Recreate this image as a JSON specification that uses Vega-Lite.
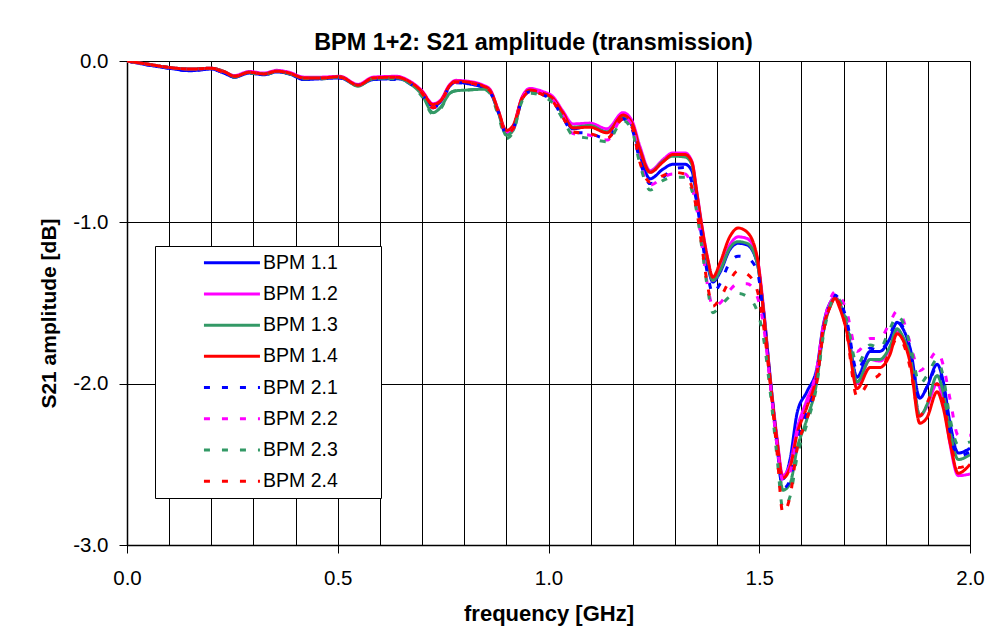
{
"$schema": "https://vega.github.io/schema/vega-lite/v6.json",
"width": 843, "height": 484,
"autosize": {"type": "none"},
"padding": {"left": 127, "top": 61, "right": 34, "bottom": 95},
"background": "white",
"title": {"text": "BPM 1+2: S21 amplitude (transmission)", "fontSize": 23.4, "fontWeight": "bold", "font": "Liberation Sans", "color": "black", "anchor": "middle", "dx": -15, "offset": -4},
"data": {"values": [
{"series":"BPM 1.1","f":0,"dB":0},{"series":"BPM 1.1","f":0.05,"dB":-0.025},{"series":"BPM 1.1","f":0.1,"dB":-0.045},{"series":"BPM 1.1","f":0.15,"dB":-0.06},{"series":"BPM 1.1","f":0.2,"dB":-0.05},{"series":"BPM 1.1","f":0.23,"dB":-0.075},{"series":"BPM 1.1","f":0.255,"dB":-0.1},{"series":"BPM 1.1","f":0.29,"dB":-0.075},{"series":"BPM 1.1","f":0.325,"dB":-0.085},{"series":"BPM 1.1","f":0.355,"dB":-0.068},
{"series":"BPM 1.1","f":0.385,"dB":-0.08},{"series":"BPM 1.1","f":0.42,"dB":-0.115},{"series":"BPM 1.1","f":0.46,"dB":-0.11},{"series":"BPM 1.1","f":0.505,"dB":-0.105},{"series":"BPM 1.1","f":0.548,"dB":-0.15},{"series":"BPM 1.1","f":0.584,"dB":-0.115},{"series":"BPM 1.1","f":0.64,"dB":-0.11},{"series":"BPM 1.1","f":0.671,"dB":-0.135},{"series":"BPM 1.1","f":0.7,"dB":-0.2},{"series":"BPM 1.1","f":0.726,"dB":-0.28},
{"series":"BPM 1.1","f":0.743,"dB":-0.255},{"series":"BPM 1.1","f":0.766,"dB":-0.155},{"series":"BPM 1.1","f":0.78,"dB":-0.13},{"series":"BPM 1.1","f":0.807,"dB":-0.14},{"series":"BPM 1.1","f":0.845,"dB":-0.165},{"series":"BPM 1.1","f":0.861,"dB":-0.19},{"series":"BPM 1.1","f":0.88,"dB":-0.31},{"series":"BPM 1.1","f":0.9,"dB":-0.44},{"series":"BPM 1.1","f":0.916,"dB":-0.41},{"series":"BPM 1.1","f":0.937,"dB":-0.235},
{"series":"BPM 1.1","f":0.956,"dB":-0.18},{"series":"BPM 1.1","f":0.987,"dB":-0.2},{"series":"BPM 1.1","f":1.01,"dB":-0.235},{"series":"BPM 1.1","f":1.034,"dB":-0.33},{"series":"BPM 1.1","f":1.058,"dB":-0.42},{"series":"BPM 1.1","f":1.098,"dB":-0.4},{"series":"BPM 1.1","f":1.139,"dB":-0.44},{"series":"BPM 1.1","f":1.177,"dB":-0.345},{"series":"BPM 1.1","f":1.198,"dB":-0.4},{"series":"BPM 1.1","f":1.217,"dB":-0.58},
{"series":"BPM 1.1","f":1.241,"dB":-0.73},{"series":"BPM 1.1","f":1.272,"dB":-0.67},{"series":"BPM 1.1","f":1.295,"dB":-0.64},{"series":"BPM 1.1","f":1.324,"dB":-0.64},{"series":"BPM 1.1","f":1.34,"dB":-0.68},{"series":"BPM 1.1","f":1.352,"dB":-0.85},{"series":"BPM 1.1","f":1.364,"dB":-1.05},{"series":"BPM 1.1","f":1.378,"dB":-1.27},{"series":"BPM 1.1","f":1.39,"dB":-1.37},{"series":"BPM 1.1","f":1.407,"dB":-1.31},
{"series":"BPM 1.1","f":1.43,"dB":-1.17},{"series":"BPM 1.1","f":1.45,"dB":-1.13},{"series":"BPM 1.1","f":1.471,"dB":-1.14},{"series":"BPM 1.1","f":1.495,"dB":-1.25},{"series":"BPM 1.1","f":1.509,"dB":-1.52},{"series":"BPM 1.1","f":1.526,"dB":-1.97},{"series":"BPM 1.1","f":1.542,"dB":-2.35},{"series":"BPM 1.1","f":1.556,"dB":-2.59},{"series":"BPM 1.1","f":1.573,"dB":-2.47},{"series":"BPM 1.1","f":1.59,"dB":-2.18},
{"series":"BPM 1.1","f":1.613,"dB":-2.05},{"series":"BPM 1.1","f":1.637,"dB":-1.9},{"series":"BPM 1.1","f":1.651,"dB":-1.65},{"series":"BPM 1.1","f":1.668,"dB":-1.5},{"series":"BPM 1.1","f":1.68,"dB":-1.47},{"series":"BPM 1.1","f":1.69,"dB":-1.5},{"series":"BPM 1.1","f":1.707,"dB":-1.63},{"series":"BPM 1.1","f":1.732,"dB":-1.96},{"series":"BPM 1.1","f":1.763,"dB":-1.8},{"series":"BPM 1.1","f":1.786,"dB":-1.8},
{"series":"BPM 1.1","f":1.81,"dB":-1.72},{"series":"BPM 1.1","f":1.827,"dB":-1.62},{"series":"BPM 1.1","f":1.841,"dB":-1.66},{"series":"BPM 1.1","f":1.858,"dB":-1.78},{"series":"BPM 1.1","f":1.881,"dB":-2.09},{"series":"BPM 1.1","f":1.898,"dB":-2.02},{"series":"BPM 1.1","f":1.922,"dB":-1.88},{"series":"BPM 1.1","f":1.936,"dB":-1.98},{"series":"BPM 1.1","f":1.953,"dB":-2.25},{"series":"BPM 1.1","f":1.972,"dB":-2.43},{"series":"BPM 1.1","f":2.0,"dB":-2.4},

{"series":"BPM 1.2","f":0,"dB":0},{"series":"BPM 1.2","f":0.05,"dB":-0.02},{"series":"BPM 1.2","f":0.1,"dB":-0.04},{"series":"BPM 1.2","f":0.15,"dB":-0.05},{"series":"BPM 1.2","f":0.2,"dB":-0.045},{"series":"BPM 1.2","f":0.23,"dB":-0.065},{"series":"BPM 1.2","f":0.255,"dB":-0.09},{"series":"BPM 1.2","f":0.29,"dB":-0.065},{"series":"BPM 1.2","f":0.325,"dB":-0.075},{"series":"BPM 1.2","f":0.355,"dB":-0.058},
{"series":"BPM 1.2","f":0.385,"dB":-0.07},{"series":"BPM 1.2","f":0.42,"dB":-0.1},{"series":"BPM 1.2","f":0.46,"dB":-0.1},{"series":"BPM 1.2","f":0.505,"dB":-0.095},{"series":"BPM 1.2","f":0.548,"dB":-0.145},{"series":"BPM 1.2","f":0.584,"dB":-0.1},{"series":"BPM 1.2","f":0.64,"dB":-0.095},{"series":"BPM 1.2","f":0.671,"dB":-0.125},{"series":"BPM 1.2","f":0.7,"dB":-0.185},{"series":"BPM 1.2","f":0.726,"dB":-0.265},
{"series":"BPM 1.2","f":0.743,"dB":-0.245},{"series":"BPM 1.2","f":0.766,"dB":-0.145},{"series":"BPM 1.2","f":0.78,"dB":-0.12},{"series":"BPM 1.2","f":0.807,"dB":-0.125},{"series":"BPM 1.2","f":0.845,"dB":-0.15},{"series":"BPM 1.2","f":0.861,"dB":-0.175},{"series":"BPM 1.2","f":0.88,"dB":-0.3},{"series":"BPM 1.2","f":0.9,"dB":-0.44},{"series":"BPM 1.2","f":0.916,"dB":-0.41},{"series":"BPM 1.2","f":0.937,"dB":-0.225},
{"series":"BPM 1.2","f":0.956,"dB":-0.17},{"series":"BPM 1.2","f":0.987,"dB":-0.19},{"series":"BPM 1.2","f":1.01,"dB":-0.22},{"series":"BPM 1.2","f":1.034,"dB":-0.31},{"series":"BPM 1.2","f":1.058,"dB":-0.39},{"series":"BPM 1.2","f":1.098,"dB":-0.385},{"series":"BPM 1.2","f":1.139,"dB":-0.42},{"series":"BPM 1.2","f":1.177,"dB":-0.32},{"series":"BPM 1.2","f":1.198,"dB":-0.37},{"series":"BPM 1.2","f":1.217,"dB":-0.53},
{"series":"BPM 1.2","f":1.241,"dB":-0.68},{"series":"BPM 1.2","f":1.272,"dB":-0.61},{"series":"BPM 1.2","f":1.295,"dB":-0.57},{"series":"BPM 1.2","f":1.324,"dB":-0.57},{"series":"BPM 1.2","f":1.34,"dB":-0.62},{"series":"BPM 1.2","f":1.352,"dB":-0.81},{"series":"BPM 1.2","f":1.364,"dB":-1.02},{"series":"BPM 1.2","f":1.378,"dB":-1.23},{"series":"BPM 1.2","f":1.39,"dB":-1.36},{"series":"BPM 1.2","f":1.407,"dB":-1.29},
{"series":"BPM 1.2","f":1.43,"dB":-1.14},{"series":"BPM 1.2","f":1.45,"dB":-1.09},{"series":"BPM 1.2","f":1.471,"dB":-1.1},{"series":"BPM 1.2","f":1.495,"dB":-1.22},{"series":"BPM 1.2","f":1.509,"dB":-1.5},{"series":"BPM 1.2","f":1.526,"dB":-1.96},{"series":"BPM 1.2","f":1.542,"dB":-2.33},{"series":"BPM 1.2","f":1.556,"dB":-2.57},{"series":"BPM 1.2","f":1.573,"dB":-2.5},{"series":"BPM 1.2","f":1.59,"dB":-2.28},
{"series":"BPM 1.2","f":1.613,"dB":-2.1},{"series":"BPM 1.2","f":1.637,"dB":-1.92},{"series":"BPM 1.2","f":1.651,"dB":-1.66},{"series":"BPM 1.2","f":1.668,"dB":-1.5},{"series":"BPM 1.2","f":1.68,"dB":-1.46},{"series":"BPM 1.2","f":1.69,"dB":-1.5},{"series":"BPM 1.2","f":1.707,"dB":-1.65},{"series":"BPM 1.2","f":1.732,"dB":-2.0},{"series":"BPM 1.2","f":1.763,"dB":-1.85},{"series":"BPM 1.2","f":1.786,"dB":-1.86},
{"series":"BPM 1.2","f":1.81,"dB":-1.78},{"series":"BPM 1.2","f":1.827,"dB":-1.67},{"series":"BPM 1.2","f":1.841,"dB":-1.72},{"series":"BPM 1.2","f":1.858,"dB":-1.85},{"series":"BPM 1.2","f":1.881,"dB":-2.2},{"series":"BPM 1.2","f":1.898,"dB":-2.14},{"series":"BPM 1.2","f":1.922,"dB":-2.0},{"series":"BPM 1.2","f":1.936,"dB":-2.1},{"series":"BPM 1.2","f":1.953,"dB":-2.38},{"series":"BPM 1.2","f":1.972,"dB":-2.57},{"series":"BPM 1.2","f":2.0,"dB":-2.56},

{"series":"BPM 1.3","f":0,"dB":0},{"series":"BPM 1.3","f":0.05,"dB":-0.02},{"series":"BPM 1.3","f":0.1,"dB":-0.04},{"series":"BPM 1.3","f":0.15,"dB":-0.05},{"series":"BPM 1.3","f":0.2,"dB":-0.045},{"series":"BPM 1.3","f":0.23,"dB":-0.065},{"series":"BPM 1.3","f":0.255,"dB":-0.095},{"series":"BPM 1.3","f":0.29,"dB":-0.07},{"series":"BPM 1.3","f":0.325,"dB":-0.08},{"series":"BPM 1.3","f":0.355,"dB":-0.063},
{"series":"BPM 1.3","f":0.385,"dB":-0.078},{"series":"BPM 1.3","f":0.42,"dB":-0.105},{"series":"BPM 1.3","f":0.46,"dB":-0.105},{"series":"BPM 1.3","f":0.505,"dB":-0.1},{"series":"BPM 1.3","f":0.548,"dB":-0.155},{"series":"BPM 1.3","f":0.584,"dB":-0.11},{"series":"BPM 1.3","f":0.64,"dB":-0.105},{"series":"BPM 1.3","f":0.671,"dB":-0.14},{"series":"BPM 1.3","f":0.7,"dB":-0.21},{"series":"BPM 1.3","f":0.726,"dB":-0.32},
{"series":"BPM 1.3","f":0.743,"dB":-0.29},{"series":"BPM 1.3","f":0.766,"dB":-0.2},{"series":"BPM 1.3","f":0.78,"dB":-0.185},{"series":"BPM 1.3","f":0.807,"dB":-0.18},{"series":"BPM 1.3","f":0.845,"dB":-0.175},{"series":"BPM 1.3","f":0.861,"dB":-0.19},{"series":"BPM 1.3","f":0.88,"dB":-0.31},{"series":"BPM 1.3","f":0.9,"dB":-0.46},{"series":"BPM 1.3","f":0.916,"dB":-0.43},{"series":"BPM 1.3","f":0.937,"dB":-0.24},
{"series":"BPM 1.3","f":0.956,"dB":-0.185},{"series":"BPM 1.3","f":0.987,"dB":-0.205},{"series":"BPM 1.3","f":1.01,"dB":-0.235},{"series":"BPM 1.3","f":1.034,"dB":-0.33},{"series":"BPM 1.3","f":1.058,"dB":-0.41},{"series":"BPM 1.3","f":1.098,"dB":-0.4},{"series":"BPM 1.3","f":1.139,"dB":-0.44},{"series":"BPM 1.3","f":1.177,"dB":-0.34},{"series":"BPM 1.3","f":1.198,"dB":-0.39},{"series":"BPM 1.3","f":1.217,"dB":-0.55},
{"series":"BPM 1.3","f":1.241,"dB":-0.69},{"series":"BPM 1.3","f":1.272,"dB":-0.62},{"series":"BPM 1.3","f":1.295,"dB":-0.59},{"series":"BPM 1.3","f":1.324,"dB":-0.595},{"series":"BPM 1.3","f":1.34,"dB":-0.64},{"series":"BPM 1.3","f":1.352,"dB":-0.83},{"series":"BPM 1.3","f":1.364,"dB":-1.04},{"series":"BPM 1.3","f":1.378,"dB":-1.25},{"series":"BPM 1.3","f":1.39,"dB":-1.36},{"series":"BPM 1.3","f":1.407,"dB":-1.3},
{"series":"BPM 1.3","f":1.43,"dB":-1.16},{"series":"BPM 1.3","f":1.45,"dB":-1.12},{"series":"BPM 1.3","f":1.471,"dB":-1.13},{"series":"BPM 1.3","f":1.495,"dB":-1.25},{"series":"BPM 1.3","f":1.509,"dB":-1.52},{"series":"BPM 1.3","f":1.526,"dB":-1.97},{"series":"BPM 1.3","f":1.542,"dB":-2.36},{"series":"BPM 1.3","f":1.556,"dB":-2.66},{"series":"BPM 1.3","f":1.573,"dB":-2.62},{"series":"BPM 1.3","f":1.59,"dB":-2.4},
{"series":"BPM 1.3","f":1.613,"dB":-2.22},{"series":"BPM 1.3","f":1.637,"dB":-1.98},{"series":"BPM 1.3","f":1.651,"dB":-1.7},{"series":"BPM 1.3","f":1.668,"dB":-1.52},{"series":"BPM 1.3","f":1.68,"dB":-1.47},{"series":"BPM 1.3","f":1.69,"dB":-1.5},{"series":"BPM 1.3","f":1.707,"dB":-1.64},{"series":"BPM 1.3","f":1.732,"dB":-1.99},{"series":"BPM 1.3","f":1.763,"dB":-1.85},{"series":"BPM 1.3","f":1.786,"dB":-1.85},
{"series":"BPM 1.3","f":1.81,"dB":-1.77},{"series":"BPM 1.3","f":1.827,"dB":-1.66},{"series":"BPM 1.3","f":1.841,"dB":-1.71},{"series":"BPM 1.3","f":1.858,"dB":-1.83},{"series":"BPM 1.3","f":1.881,"dB":-2.2},{"series":"BPM 1.3","f":1.898,"dB":-2.13},{"series":"BPM 1.3","f":1.922,"dB":-1.95},{"series":"BPM 1.3","f":1.936,"dB":-2.05},{"series":"BPM 1.3","f":1.953,"dB":-2.3},{"series":"BPM 1.3","f":1.972,"dB":-2.47},{"series":"BPM 1.3","f":2.0,"dB":-2.44},

{"series":"BPM 1.4","f":0,"dB":0},{"series":"BPM 1.4","f":0.05,"dB":-0.02},{"series":"BPM 1.4","f":0.1,"dB":-0.04},{"series":"BPM 1.4","f":0.15,"dB":-0.05},{"series":"BPM 1.4","f":0.2,"dB":-0.045},{"series":"BPM 1.4","f":0.23,"dB":-0.065},{"series":"BPM 1.4","f":0.255,"dB":-0.095},{"series":"BPM 1.4","f":0.29,"dB":-0.07},{"series":"BPM 1.4","f":0.325,"dB":-0.08},{"series":"BPM 1.4","f":0.355,"dB":-0.063},
{"series":"BPM 1.4","f":0.385,"dB":-0.075},{"series":"BPM 1.4","f":0.42,"dB":-0.105},{"series":"BPM 1.4","f":0.46,"dB":-0.105},{"series":"BPM 1.4","f":0.505,"dB":-0.097},{"series":"BPM 1.4","f":0.548,"dB":-0.15},{"series":"BPM 1.4","f":0.584,"dB":-0.105},{"series":"BPM 1.4","f":0.64,"dB":-0.1},{"series":"BPM 1.4","f":0.671,"dB":-0.13},{"series":"BPM 1.4","f":0.7,"dB":-0.19},{"series":"BPM 1.4","f":0.726,"dB":-0.27},
{"series":"BPM 1.4","f":0.743,"dB":-0.25},{"series":"BPM 1.4","f":0.766,"dB":-0.15},{"series":"BPM 1.4","f":0.78,"dB":-0.125},{"series":"BPM 1.4","f":0.807,"dB":-0.13},{"series":"BPM 1.4","f":0.845,"dB":-0.155},{"series":"BPM 1.4","f":0.861,"dB":-0.18},{"series":"BPM 1.4","f":0.88,"dB":-0.3},{"series":"BPM 1.4","f":0.9,"dB":-0.43},{"series":"BPM 1.4","f":0.916,"dB":-0.4},{"series":"BPM 1.4","f":0.937,"dB":-0.23},
{"series":"BPM 1.4","f":0.956,"dB":-0.18},{"series":"BPM 1.4","f":0.987,"dB":-0.2},{"series":"BPM 1.4","f":1.01,"dB":-0.23},{"series":"BPM 1.4","f":1.034,"dB":-0.32},{"series":"BPM 1.4","f":1.058,"dB":-0.415},{"series":"BPM 1.4","f":1.098,"dB":-0.41},{"series":"BPM 1.4","f":1.139,"dB":-0.445},{"series":"BPM 1.4","f":1.177,"dB":-0.335},{"series":"BPM 1.4","f":1.198,"dB":-0.385},{"series":"BPM 1.4","f":1.217,"dB":-0.55},
{"series":"BPM 1.4","f":1.241,"dB":-0.69},{"series":"BPM 1.4","f":1.272,"dB":-0.625},{"series":"BPM 1.4","f":1.295,"dB":-0.58},{"series":"BPM 1.4","f":1.324,"dB":-0.58},{"series":"BPM 1.4","f":1.34,"dB":-0.625},{"series":"BPM 1.4","f":1.352,"dB":-0.82},{"series":"BPM 1.4","f":1.364,"dB":-1.03},{"series":"BPM 1.4","f":1.378,"dB":-1.23},{"series":"BPM 1.4","f":1.39,"dB":-1.34},{"series":"BPM 1.4","f":1.407,"dB":-1.25},
{"series":"BPM 1.4","f":1.43,"dB":-1.09},{"series":"BPM 1.4","f":1.45,"dB":-1.035},{"series":"BPM 1.4","f":1.471,"dB":-1.06},{"series":"BPM 1.4","f":1.495,"dB":-1.215},{"series":"BPM 1.4","f":1.509,"dB":-1.525},{"series":"BPM 1.4","f":1.526,"dB":-1.98},{"series":"BPM 1.4","f":1.542,"dB":-2.35},{"series":"BPM 1.4","f":1.556,"dB":-2.585},{"series":"BPM 1.4","f":1.573,"dB":-2.52},{"series":"BPM 1.4","f":1.59,"dB":-2.31},
{"series":"BPM 1.4","f":1.613,"dB":-2.145},{"series":"BPM 1.4","f":1.637,"dB":-1.935},{"series":"BPM 1.4","f":1.651,"dB":-1.67},{"series":"BPM 1.4","f":1.668,"dB":-1.525},{"series":"BPM 1.4","f":1.68,"dB":-1.47},{"series":"BPM 1.4","f":1.69,"dB":-1.525},{"series":"BPM 1.4","f":1.707,"dB":-1.67},{"series":"BPM 1.4","f":1.732,"dB":-2.03},{"series":"BPM 1.4","f":1.763,"dB":-1.9},{"series":"BPM 1.4","f":1.786,"dB":-1.9},
{"series":"BPM 1.4","f":1.81,"dB":-1.82},{"series":"BPM 1.4","f":1.827,"dB":-1.69},{"series":"BPM 1.4","f":1.841,"dB":-1.73},{"series":"BPM 1.4","f":1.858,"dB":-1.87},{"series":"BPM 1.4","f":1.881,"dB":-2.245},{"series":"BPM 1.4","f":1.898,"dB":-2.21},{"series":"BPM 1.4","f":1.922,"dB":-2.05},{"series":"BPM 1.4","f":1.936,"dB":-2.145},{"series":"BPM 1.4","f":1.953,"dB":-2.37},{"series":"BPM 1.4","f":1.972,"dB":-2.555},{"series":"BPM 1.4","f":2.0,"dB":-2.5},

{"series":"BPM 2.1","f":0,"dB":0},{"series":"BPM 2.1","f":0.05,"dB":-0.025},{"series":"BPM 2.1","f":0.1,"dB":-0.045},{"series":"BPM 2.1","f":0.15,"dB":-0.06},{"series":"BPM 2.1","f":0.2,"dB":-0.05},{"series":"BPM 2.1","f":0.23,"dB":-0.075},{"series":"BPM 2.1","f":0.255,"dB":-0.1},{"series":"BPM 2.1","f":0.29,"dB":-0.075},{"series":"BPM 2.1","f":0.325,"dB":-0.085},{"series":"BPM 2.1","f":0.355,"dB":-0.068},
{"series":"BPM 2.1","f":0.385,"dB":-0.08},{"series":"BPM 2.1","f":0.42,"dB":-0.115},{"series":"BPM 2.1","f":0.46,"dB":-0.11},{"series":"BPM 2.1","f":0.505,"dB":-0.105},{"series":"BPM 2.1","f":0.548,"dB":-0.15},{"series":"BPM 2.1","f":0.584,"dB":-0.115},{"series":"BPM 2.1","f":0.64,"dB":-0.115},{"series":"BPM 2.1","f":0.671,"dB":-0.14},{"series":"BPM 2.1","f":0.7,"dB":-0.21},{"series":"BPM 2.1","f":0.726,"dB":-0.29},
{"series":"BPM 2.1","f":0.743,"dB":-0.26},{"series":"BPM 2.1","f":0.766,"dB":-0.16},{"series":"BPM 2.1","f":0.78,"dB":-0.135},{"series":"BPM 2.1","f":0.807,"dB":-0.14},{"series":"BPM 2.1","f":0.845,"dB":-0.16},{"series":"BPM 2.1","f":0.861,"dB":-0.19},{"series":"BPM 2.1","f":0.88,"dB":-0.31},{"series":"BPM 2.1","f":0.9,"dB":-0.45},{"series":"BPM 2.1","f":0.916,"dB":-0.42},{"series":"BPM 2.1","f":0.937,"dB":-0.24},
{"series":"BPM 2.1","f":0.956,"dB":-0.19},{"series":"BPM 2.1","f":0.987,"dB":-0.21},{"series":"BPM 2.1","f":1.01,"dB":-0.25},{"series":"BPM 2.1","f":1.034,"dB":-0.35},{"series":"BPM 2.1","f":1.058,"dB":-0.44},{"series":"BPM 2.1","f":1.098,"dB":-0.45},{"series":"BPM 2.1","f":1.139,"dB":-0.48},{"series":"BPM 2.1","f":1.177,"dB":-0.36},{"series":"BPM 2.1","f":1.198,"dB":-0.42},{"series":"BPM 2.1","f":1.217,"dB":-0.62},
{"series":"BPM 2.1","f":1.241,"dB":-0.76},{"series":"BPM 2.1","f":1.272,"dB":-0.72},{"series":"BPM 2.1","f":1.295,"dB":-0.67},{"series":"BPM 2.1","f":1.324,"dB":-0.66},{"series":"BPM 2.1","f":1.34,"dB":-0.75},{"series":"BPM 2.1","f":1.352,"dB":-0.88},{"series":"BPM 2.1","f":1.364,"dB":-1.1},{"series":"BPM 2.1","f":1.378,"dB":-1.33},{"series":"BPM 2.1","f":1.39,"dB":-1.44},{"series":"BPM 2.1","f":1.407,"dB":-1.38},
{"series":"BPM 2.1","f":1.43,"dB":-1.25},{"series":"BPM 2.1","f":1.45,"dB":-1.21},{"series":"BPM 2.1","f":1.471,"dB":-1.22},{"series":"BPM 2.1","f":1.495,"dB":-1.3},{"series":"BPM 2.1","f":1.509,"dB":-1.55},{"series":"BPM 2.1","f":1.526,"dB":-1.98},{"series":"BPM 2.1","f":1.542,"dB":-2.38},{"series":"BPM 2.1","f":1.556,"dB":-2.65},{"series":"BPM 2.1","f":1.573,"dB":-2.6},{"series":"BPM 2.1","f":1.59,"dB":-2.35},
{"series":"BPM 2.1","f":1.613,"dB":-2.18},{"series":"BPM 2.1","f":1.637,"dB":-1.96},{"series":"BPM 2.1","f":1.651,"dB":-1.68},{"series":"BPM 2.1","f":1.668,"dB":-1.5},{"series":"BPM 2.1","f":1.68,"dB":-1.45},{"series":"BPM 2.1","f":1.69,"dB":-1.48},{"series":"BPM 2.1","f":1.707,"dB":-1.6},{"series":"BPM 2.1","f":1.732,"dB":-1.92},{"series":"BPM 2.1","f":1.763,"dB":-1.78},{"series":"BPM 2.1","f":1.786,"dB":-1.8},
{"series":"BPM 2.1","f":1.81,"dB":-1.7},{"series":"BPM 2.1","f":1.827,"dB":-1.6},{"series":"BPM 2.1","f":1.841,"dB":-1.65},{"series":"BPM 2.1","f":1.858,"dB":-1.78},{"series":"BPM 2.1","f":1.881,"dB":-2.1},{"series":"BPM 2.1","f":1.898,"dB":-2.02},{"series":"BPM 2.1","f":1.922,"dB":-1.9},{"series":"BPM 2.1","f":1.936,"dB":-2.0},{"series":"BPM 2.1","f":1.953,"dB":-2.3},{"series":"BPM 2.1","f":1.972,"dB":-2.45},{"series":"BPM 2.1","f":2.0,"dB":-2.42},

{"series":"BPM 2.2","f":0,"dB":0},{"series":"BPM 2.2","f":0.05,"dB":-0.02},{"series":"BPM 2.2","f":0.1,"dB":-0.04},{"series":"BPM 2.2","f":0.15,"dB":-0.05},{"series":"BPM 2.2","f":0.2,"dB":-0.045},{"series":"BPM 2.2","f":0.23,"dB":-0.07},{"series":"BPM 2.2","f":0.255,"dB":-0.095},{"series":"BPM 2.2","f":0.29,"dB":-0.07},{"series":"BPM 2.2","f":0.325,"dB":-0.08},{"series":"BPM 2.2","f":0.355,"dB":-0.063},
{"series":"BPM 2.2","f":0.385,"dB":-0.075},{"series":"BPM 2.2","f":0.42,"dB":-0.105},{"series":"BPM 2.2","f":0.46,"dB":-0.105},{"series":"BPM 2.2","f":0.505,"dB":-0.1},{"series":"BPM 2.2","f":0.548,"dB":-0.15},{"series":"BPM 2.2","f":0.584,"dB":-0.105},{"series":"BPM 2.2","f":0.64,"dB":-0.1},{"series":"BPM 2.2","f":0.671,"dB":-0.13},{"series":"BPM 2.2","f":0.7,"dB":-0.2},{"series":"BPM 2.2","f":0.726,"dB":-0.29},
{"series":"BPM 2.2","f":0.743,"dB":-0.26},{"series":"BPM 2.2","f":0.766,"dB":-0.155},{"series":"BPM 2.2","f":0.78,"dB":-0.13},{"series":"BPM 2.2","f":0.807,"dB":-0.135},{"series":"BPM 2.2","f":0.845,"dB":-0.16},{"series":"BPM 2.2","f":0.861,"dB":-0.185},{"series":"BPM 2.2","f":0.88,"dB":-0.31},{"series":"BPM 2.2","f":0.9,"dB":-0.45},{"series":"BPM 2.2","f":0.916,"dB":-0.42},{"series":"BPM 2.2","f":0.937,"dB":-0.235},
{"series":"BPM 2.2","f":0.956,"dB":-0.18},{"series":"BPM 2.2","f":0.987,"dB":-0.2},{"series":"BPM 2.2","f":1.01,"dB":-0.24},{"series":"BPM 2.2","f":1.034,"dB":-0.34},{"series":"BPM 2.2","f":1.058,"dB":-0.45},{"series":"BPM 2.2","f":1.098,"dB":-0.46},{"series":"BPM 2.2","f":1.139,"dB":-0.49},{"series":"BPM 2.2","f":1.177,"dB":-0.35},{"series":"BPM 2.2","f":1.198,"dB":-0.4},{"series":"BPM 2.2","f":1.217,"dB":-0.62},
{"series":"BPM 2.2","f":1.241,"dB":-0.77},{"series":"BPM 2.2","f":1.272,"dB":-0.72},{"series":"BPM 2.2","f":1.295,"dB":-0.7},{"series":"BPM 2.2","f":1.324,"dB":-0.7},{"series":"BPM 2.2","f":1.34,"dB":-0.78},{"series":"BPM 2.2","f":1.352,"dB":-0.92},{"series":"BPM 2.2","f":1.364,"dB":-1.14},{"series":"BPM 2.2","f":1.378,"dB":-1.4},{"series":"BPM 2.2","f":1.39,"dB":-1.52},{"series":"BPM 2.2","f":1.407,"dB":-1.5},
{"series":"BPM 2.2","f":1.43,"dB":-1.42},{"series":"BPM 2.2","f":1.45,"dB":-1.38},{"series":"BPM 2.2","f":1.471,"dB":-1.38},{"series":"BPM 2.2","f":1.495,"dB":-1.46},{"series":"BPM 2.2","f":1.509,"dB":-1.62},{"series":"BPM 2.2","f":1.526,"dB":-2.0},{"series":"BPM 2.2","f":1.542,"dB":-2.38},{"series":"BPM 2.2","f":1.556,"dB":-2.6},{"series":"BPM 2.2","f":1.573,"dB":-2.55},{"series":"BPM 2.2","f":1.59,"dB":-2.3},
{"series":"BPM 2.2","f":1.613,"dB":-2.12},{"series":"BPM 2.2","f":1.637,"dB":-1.9},{"series":"BPM 2.2","f":1.651,"dB":-1.66},{"series":"BPM 2.2","f":1.668,"dB":-1.48},{"series":"BPM 2.2","f":1.68,"dB":-1.43},{"series":"BPM 2.2","f":1.69,"dB":-1.45},{"series":"BPM 2.2","f":1.707,"dB":-1.55},{"series":"BPM 2.2","f":1.732,"dB":-1.8},{"series":"BPM 2.2","f":1.763,"dB":-1.72},{"series":"BPM 2.2","f":1.786,"dB":-1.72},
{"series":"BPM 2.2","f":1.81,"dB":-1.62},{"series":"BPM 2.2","f":1.827,"dB":-1.55},{"series":"BPM 2.2","f":1.841,"dB":-1.6},{"series":"BPM 2.2","f":1.858,"dB":-1.75},{"series":"BPM 2.2","f":1.881,"dB":-1.92},{"series":"BPM 2.2","f":1.898,"dB":-1.88},{"series":"BPM 2.2","f":1.922,"dB":-1.8},{"series":"BPM 2.2","f":1.936,"dB":-1.88},{"series":"BPM 2.2","f":1.953,"dB":-2.1},{"series":"BPM 2.2","f":1.972,"dB":-2.32},{"series":"BPM 2.2","f":2.0,"dB":-2.32},

{"series":"BPM 2.3","f":0,"dB":0},{"series":"BPM 2.3","f":0.05,"dB":-0.02},{"series":"BPM 2.3","f":0.1,"dB":-0.04},{"series":"BPM 2.3","f":0.15,"dB":-0.05},{"series":"BPM 2.3","f":0.2,"dB":-0.045},{"series":"BPM 2.3","f":0.23,"dB":-0.07},{"series":"BPM 2.3","f":0.255,"dB":-0.1},{"series":"BPM 2.3","f":0.29,"dB":-0.075},{"series":"BPM 2.3","f":0.325,"dB":-0.085},{"series":"BPM 2.3","f":0.355,"dB":-0.068},
{"series":"BPM 2.3","f":0.385,"dB":-0.08},{"series":"BPM 2.3","f":0.42,"dB":-0.11},{"series":"BPM 2.3","f":0.46,"dB":-0.11},{"series":"BPM 2.3","f":0.505,"dB":-0.1},{"series":"BPM 2.3","f":0.548,"dB":-0.155},{"series":"BPM 2.3","f":0.584,"dB":-0.11},{"series":"BPM 2.3","f":0.64,"dB":-0.11},{"series":"BPM 2.3","f":0.671,"dB":-0.14},{"series":"BPM 2.3","f":0.7,"dB":-0.22},{"series":"BPM 2.3","f":0.726,"dB":-0.33},
{"series":"BPM 2.3","f":0.743,"dB":-0.3},{"series":"BPM 2.3","f":0.766,"dB":-0.2},{"series":"BPM 2.3","f":0.78,"dB":-0.185},{"series":"BPM 2.3","f":0.807,"dB":-0.18},{"series":"BPM 2.3","f":0.845,"dB":-0.175},{"series":"BPM 2.3","f":0.861,"dB":-0.2},{"series":"BPM 2.3","f":0.88,"dB":-0.33},{"series":"BPM 2.3","f":0.9,"dB":-0.48},{"series":"BPM 2.3","f":0.916,"dB":-0.44},{"series":"BPM 2.3","f":0.937,"dB":-0.25},
{"series":"BPM 2.3","f":0.956,"dB":-0.2},{"series":"BPM 2.3","f":0.987,"dB":-0.22},{"series":"BPM 2.3","f":1.01,"dB":-0.26},{"series":"BPM 2.3","f":1.034,"dB":-0.36},{"series":"BPM 2.3","f":1.058,"dB":-0.46},{"series":"BPM 2.3","f":1.098,"dB":-0.48},{"series":"BPM 2.3","f":1.139,"dB":-0.5},{"series":"BPM 2.3","f":1.177,"dB":-0.37},{"series":"BPM 2.3","f":1.198,"dB":-0.43},{"series":"BPM 2.3","f":1.217,"dB":-0.64},
{"series":"BPM 2.3","f":1.241,"dB":-0.8},{"series":"BPM 2.3","f":1.272,"dB":-0.74},{"series":"BPM 2.3","f":1.295,"dB":-0.72},{"series":"BPM 2.3","f":1.324,"dB":-0.72},{"series":"BPM 2.3","f":1.34,"dB":-0.8},{"series":"BPM 2.3","f":1.352,"dB":-0.94},{"series":"BPM 2.3","f":1.364,"dB":-1.16},{"series":"BPM 2.3","f":1.378,"dB":-1.42},{"series":"BPM 2.3","f":1.39,"dB":-1.56},{"series":"BPM 2.3","f":1.407,"dB":-1.52},
{"series":"BPM 2.3","f":1.43,"dB":-1.46},{"series":"BPM 2.3","f":1.45,"dB":-1.44},{"series":"BPM 2.3","f":1.471,"dB":-1.46},{"series":"BPM 2.3","f":1.495,"dB":-1.55},{"series":"BPM 2.3","f":1.509,"dB":-1.7},{"series":"BPM 2.3","f":1.526,"dB":-2.05},{"series":"BPM 2.3","f":1.542,"dB":-2.45},{"series":"BPM 2.3","f":1.556,"dB":-2.77},{"series":"BPM 2.3","f":1.573,"dB":-2.7},{"series":"BPM 2.3","f":1.59,"dB":-2.45},
{"series":"BPM 2.3","f":1.613,"dB":-2.25},{"series":"BPM 2.3","f":1.637,"dB":-2.0},{"series":"BPM 2.3","f":1.651,"dB":-1.72},{"series":"BPM 2.3","f":1.668,"dB":-1.52},{"series":"BPM 2.3","f":1.68,"dB":-1.46},{"series":"BPM 2.3","f":1.69,"dB":-1.48},{"series":"BPM 2.3","f":1.707,"dB":-1.6},{"series":"BPM 2.3","f":1.732,"dB":-1.88},{"series":"BPM 2.3","f":1.763,"dB":-1.76},{"series":"BPM 2.3","f":1.786,"dB":-1.78},
{"series":"BPM 2.3","f":1.81,"dB":-1.66},{"series":"BPM 2.3","f":1.827,"dB":-1.58},{"series":"BPM 2.3","f":1.841,"dB":-1.62},{"series":"BPM 2.3","f":1.858,"dB":-1.76},{"series":"BPM 2.3","f":1.881,"dB":-2.0},{"series":"BPM 2.3","f":1.898,"dB":-1.95},{"series":"BPM 2.3","f":1.922,"dB":-1.85},{"series":"BPM 2.3","f":1.936,"dB":-1.95},{"series":"BPM 2.3","f":1.953,"dB":-2.22},{"series":"BPM 2.3","f":1.972,"dB":-2.38},{"series":"BPM 2.3","f":2.0,"dB":-2.36},

{"series":"BPM 2.4","f":0,"dB":0},{"series":"BPM 2.4","f":0.05,"dB":-0.02},{"series":"BPM 2.4","f":0.1,"dB":-0.04},{"series":"BPM 2.4","f":0.15,"dB":-0.05},{"series":"BPM 2.4","f":0.2,"dB":-0.045},{"series":"BPM 2.4","f":0.23,"dB":-0.07},{"series":"BPM 2.4","f":0.255,"dB":-0.095},{"series":"BPM 2.4","f":0.29,"dB":-0.07},{"series":"BPM 2.4","f":0.325,"dB":-0.08},{"series":"BPM 2.4","f":0.355,"dB":-0.063},
{"series":"BPM 2.4","f":0.385,"dB":-0.075},{"series":"BPM 2.4","f":0.42,"dB":-0.105},{"series":"BPM 2.4","f":0.46,"dB":-0.105},{"series":"BPM 2.4","f":0.505,"dB":-0.1},{"series":"BPM 2.4","f":0.548,"dB":-0.15},{"series":"BPM 2.4","f":0.584,"dB":-0.105},{"series":"BPM 2.4","f":0.64,"dB":-0.1},{"series":"BPM 2.4","f":0.671,"dB":-0.13},{"series":"BPM 2.4","f":0.7,"dB":-0.2},{"series":"BPM 2.4","f":0.726,"dB":-0.29},
{"series":"BPM 2.4","f":0.743,"dB":-0.26},{"series":"BPM 2.4","f":0.766,"dB":-0.155},{"series":"BPM 2.4","f":0.78,"dB":-0.13},{"series":"BPM 2.4","f":0.807,"dB":-0.135},{"series":"BPM 2.4","f":0.845,"dB":-0.16},{"series":"BPM 2.4","f":0.861,"dB":-0.185},{"series":"BPM 2.4","f":0.88,"dB":-0.31},{"series":"BPM 2.4","f":0.9,"dB":-0.45},{"series":"BPM 2.4","f":0.916,"dB":-0.42},{"series":"BPM 2.4","f":0.937,"dB":-0.24},
{"series":"BPM 2.4","f":0.956,"dB":-0.19},{"series":"BPM 2.4","f":0.987,"dB":-0.21},{"series":"BPM 2.4","f":1.01,"dB":-0.25},{"series":"BPM 2.4","f":1.034,"dB":-0.35},{"series":"BPM 2.4","f":1.058,"dB":-0.44},{"series":"BPM 2.4","f":1.098,"dB":-0.45},{"series":"BPM 2.4","f":1.139,"dB":-0.48},{"series":"BPM 2.4","f":1.177,"dB":-0.36},{"series":"BPM 2.4","f":1.198,"dB":-0.41},{"series":"BPM 2.4","f":1.217,"dB":-0.63},
{"series":"BPM 2.4","f":1.241,"dB":-0.75},{"series":"BPM 2.4","f":1.272,"dB":-0.71},{"series":"BPM 2.4","f":1.295,"dB":-0.69},{"series":"BPM 2.4","f":1.324,"dB":-0.7},{"series":"BPM 2.4","f":1.34,"dB":-0.78},{"series":"BPM 2.4","f":1.352,"dB":-0.93},{"series":"BPM 2.4","f":1.364,"dB":-1.15},{"series":"BPM 2.4","f":1.378,"dB":-1.4},{"series":"BPM 2.4","f":1.39,"dB":-1.52},{"series":"BPM 2.4","f":1.407,"dB":-1.47},
{"series":"BPM 2.4","f":1.43,"dB":-1.36},{"series":"BPM 2.4","f":1.45,"dB":-1.3},{"series":"BPM 2.4","f":1.471,"dB":-1.32},{"series":"BPM 2.4","f":1.495,"dB":-1.42},{"series":"BPM 2.4","f":1.509,"dB":-1.62},{"series":"BPM 2.4","f":1.526,"dB":-2.0},{"series":"BPM 2.4","f":1.542,"dB":-2.42},{"series":"BPM 2.4","f":1.556,"dB":-2.8},{"series":"BPM 2.4","f":1.573,"dB":-2.7},{"series":"BPM 2.4","f":1.59,"dB":-2.4},
{"series":"BPM 2.4","f":1.613,"dB":-2.22},{"series":"BPM 2.4","f":1.637,"dB":-1.98},{"series":"BPM 2.4","f":1.651,"dB":-1.7},{"series":"BPM 2.4","f":1.668,"dB":-1.52},{"series":"BPM 2.4","f":1.68,"dB":-1.48},{"series":"BPM 2.4","f":1.69,"dB":-1.5},{"series":"BPM 2.4","f":1.707,"dB":-1.68},{"series":"BPM 2.4","f":1.732,"dB":-2.08},{"series":"BPM 2.4","f":1.763,"dB":-1.98},{"series":"BPM 2.4","f":1.786,"dB":-1.94},
{"series":"BPM 2.4","f":1.81,"dB":-1.8},{"series":"BPM 2.4","f":1.827,"dB":-1.72},{"series":"BPM 2.4","f":1.841,"dB":-1.75},{"series":"BPM 2.4","f":1.858,"dB":-1.9},{"series":"BPM 2.4","f":1.881,"dB":-2.2},{"series":"BPM 2.4","f":1.898,"dB":-2.12},{"series":"BPM 2.4","f":1.922,"dB":-2.0},{"series":"BPM 2.4","f":1.936,"dB":-2.1},{"series":"BPM 2.4","f":1.953,"dB":-2.35},{"series":"BPM 2.4","f":1.972,"dB":-2.52},{"series":"BPM 2.4","f":2.0,"dB":-2.5}
]},
"mark": {"type": "line", "strokeWidth": 3, "interpolate": "monotone", "clip": true},
"encoding": {
  "x": {"field": "f", "type": "quantitative",
    "scale": {"domain": [0, 2], "nice": false, "zero": false},
    "axis": {
      "title": "frequency [GHz]",
      "values": [0,0.1,0.2,0.3,0.4,0.5,0.6,0.7,0.8,0.9,1.0,1.1,1.2,1.3,1.4,1.5,1.6,1.7,1.8,1.9,2.0],
      "format": ".1f",
      "labelExpr": "abs(datum.value*2 - round(datum.value*2)) < 0.001 ? datum.label : ''",
      "tickOpacity": {"condition": {"test": "abs(datum.value*2 - round(datum.value*2)) < 0.001", "value": 1}, "value": 0},
      "tickSize": 8, "labelPadding": 15, "labelFontSize": 20.5,
      "titleY": 75, "titleBaseline": "alphabetic", "titleFontSize": 22
    }
  },
  "y": {"field": "dB", "type": "quantitative",
    "scale": {"domain": [-3, 0], "nice": false, "zero": false},
    "axis": {
      "title": "S21 amplitude [dB]",
      "values": [-3, -2, -1, 0],
      "format": ".1f",
      "labelExpr": "replace(datum.label, '\u2212', '-')",
      "tickSize": 8, "labelPadding": 11, "labelFontSize": 20.5,
      "titleX": -72, "titleY": 252, "titleBaseline": "alphabetic", "titleFontSize": 21
    }
  },
  "color": {"field": "series", "type": "nominal",
    "scale": {"domain": ["BPM 1.1","BPM 1.2","BPM 1.3","BPM 1.4","BPM 2.1","BPM 2.2","BPM 2.3","BPM 2.4"],
              "range": ["#0000FF","#FF00FF","#339966","#FF0000","#0000FF","#FF00FF","#339966","#FF0000"]},
    "legend": {"title": null}
  },
  "strokeDash": {"field": "series", "type": "nominal",
    "scale": {"domain": ["BPM 1.1","BPM 1.2","BPM 1.3","BPM 1.4","BPM 2.1","BPM 2.2","BPM 2.3","BPM 2.4"],
              "range": [[1,0],[1,0],[1,0],[1,0],[6,12],[6,12],[6,12],[6,12]]},
    "legend": {"title": null}
  }
},
"config": {
  "font": "Liberation Sans",
  "view": {"stroke": "black", "strokeWidth": 1},
  "axis": {
    "labelFont": "Liberation Sans", "labelColor": "black", "labelOverlap": false, "labelFlush": false,
    "titleFont": "Liberation Sans", "titleColor": "black", "titleFontWeight": "bold",
    "grid": true, "gridColor": "black", "gridWidth": 1, "gridOpacity": 1,
    "domainColor": "black", "domainWidth": 1.5, "tickColor": "black", "tickWidth": 1
  },
  "legend": {
    "orient": "none", "legendX": 28, "legendY": 185,
    "fillColor": "white", "strokeColor": "black", "padding": 7,
    "symbolType": "M16.1,0H44.1M98,0", "symbolSize": 16, "symbolStrokeWidth": 3,
    "labelFont": "Liberation Sans", "labelFontSize": 19.5, "labelColor": "black",
    "labelOffset": 81.5, "rowPadding": 10.2, "labelLimit": 300
  }
}
}
